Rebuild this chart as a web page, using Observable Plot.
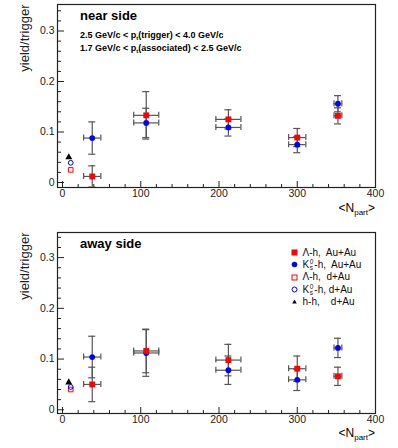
<!DOCTYPE html>
<html>
<head>
<meta charset="utf-8">
<script src="https://cdn.jsdelivr.net/npm/d3@7"></script>
<script src="https://cdn.jsdelivr.net/npm/@observablehq/plot@0.6"></script>
<style>
  html, body { margin: 0; padding: 0; background: #fff; }
  #wrap { position: relative; width: 398px; height: 448px; font-family: "Liberation Sans", Arial, sans-serif; color: #000; }
  #wrap > svg { display: block; }
  .ov { position: absolute; white-space: nowrap; line-height: 1; }
  .title { font-weight: bold; font-size: 13px; }
  .sub { font-weight: bold; font-size: 9px; line-height: 10px; }
  .sub sub { font-size: 6px; vertical-align: -2px; }
  .xl { font-size: 12px; }
  .xl sub { font-size: 8px; vertical-align: -3px; }
  .leg { font-size: 10px; color: #111; }
  .leg > div { height: 12.3px; display: flex; align-items: center; }
  .leg svg { display: inline-block; margin-right: 4px; }
  .stk { display: inline-flex; flex-direction: column; font-size: 6.5px; line-height: 6px; margin: 0 1px 0 0.5px; }
</style>
</head>
<body>
<div id="wrap"></div>
<script>
// ---- data ----
const npart = [38, 107, 212, 300, 352];
const npartErr = [11, 16, 16, 11, 5];

const nearLam = [0.012, 0.133, 0.125, 0.089, 0.132];
const nearLamErr = [0.021, 0.047, 0.019, 0.018, 0.016];
const nearK0 = [0.088, 0.118, 0.109, 0.075, 0.156];
const nearK0Err = [0.032, 0.029, 0.017, 0.016, 0.016];

const awayLam = [0.050, 0.116, 0.098, 0.081, 0.066];
const awayLamErr = [0.034, 0.043, 0.031, 0.025, 0.018];
const awayK0 = [0.104, 0.112, 0.078, 0.059, 0.122];
const awayK0Err = [0.041, 0.046, 0.028, 0.021, 0.019];

// d+Au references: Lambda-h, K0s-h, h-h
const dAuX = [10.5, 10.5, 8];
const nearDAu = [0.025, 0.039, 0.050];
const awayDAu = [0.040, 0.045, 0.054];

const xMajor = [0, 100, 200, 300, 400];
const xMinor = [20, 40, 60, 80, 120, 140, 160, 180, 220, 240, 260, 280, 320, 340, 360, 380];
const yMajor = [0, 0.1, 0.2, 0.3];
const yMinor = [0.02, 0.04, 0.06, 0.08, 0.12, 0.14, 0.16, 0.18, 0.22, 0.24, 0.26, 0.28, 0.32, 0.34];

const W = 398, H = 224, ML = 57, MR = 23;

function rows(y, e) {
  return npart.map((x, i) => ({x, ex: npartErr[i], y: y[i], e: e[i]}));
}

function errMarks(d) {
  const st = {stroke: "#555", strokeWidth: 1.2};
  return [
    Plot.ruleX(d, {x: "x", y1: r => r.y - r.e, y2: r => r.y + r.e, ...st}),
    Plot.ruleY(d, {y: "y", x1: r => r.x - r.ex, x2: r => r.x + r.ex, ...st}),
    Plot.ruleY(d, {y: r => r.y + r.e, x1: "x", x2: "x", insetLeft: -3.5, insetRight: -3.5, ...st}),
    Plot.ruleY(d, {y: r => r.y - r.e, x1: "x", x2: "x", insetLeft: -3.5, insetRight: -3.5, ...st}),
    Plot.ruleX(d, {x: r => r.x - r.ex, y1: "y", y2: "y", insetTop: -3, insetBottom: -3, ...st}),
    Plot.ruleX(d, {x: r => r.x + r.ex, y1: "y", y2: "y", insetTop: -3, insetBottom: -3, ...st})
  ];
}

function panel(lam, lamE, k0, k0E, dau, mt, mb, ydom) {
  const ph = H - mt - mb, pw = W - ML - MR;
  const L = rows(lam, lamE), K = rows(k0, k0E);
  return Plot.plot({
    width: W, height: H,
    marginLeft: ML, marginRight: MR, marginTop: mt, marginBottom: mb,
    style: {fontFamily: "Liberation Sans, Arial, sans-serif", fontSize: "10.5px", background: "white", overflow: "visible"},
    x: {domain: [-6.4, 400]},
    y: {domain: ydom},
    marks: [
      Plot.axisX({ticks: xMajor, tickSize: 0, tickPadding: 2, tickFormat: d => String(d), label: null, fontSize: 10.5, fill: "#222"}),
      Plot.axisY({ticks: yMajor, tickSize: 0, tickPadding: 3, tickFormat: d => String(d), label: null, fontSize: 10.5, fill: "#222"}),
      Plot.ruleX(xMajor, {x: d => d, insetTop: ph - 6, stroke: "#222"}),
      Plot.ruleX(xMinor, {x: d => d, insetTop: ph - 3, stroke: "#222"}),
      Plot.ruleY(yMajor, {y: d => d, insetRight: pw - 7, stroke: "#222"}),
      Plot.ruleY(yMinor, {y: d => d, insetRight: pw - 4, stroke: "#222"}),
      Plot.text(["yield/trigger"], {frameAnchor: "top-left", rotate: -90, textAnchor: "end", lineAnchor: "middle", dx: -33, fontSize: 13, fill: "#222"}),
      ...errMarks(K),
      ...errMarks(L),
      Plot.dot(K, {x: "x", y: "y", symbol: "circle", fill: "#0000ff", r: 2.9}),
      Plot.dot(L, {x: "x", y: "y", symbol: "square", fill: "#ff0000", r: 3.3}),
      Plot.dot([0], {x: () => dAuX[0], y: () => dau[0], symbol: "square", stroke: "#ff0000", fill: "none", strokeWidth: 1, r: 2.6}),
      Plot.dot([1], {x: () => dAuX[1], y: () => dau[1], symbol: "circle", stroke: "#0000ff", fill: "none", strokeWidth: 1, r: 2.4}),
      Plot.dot([2], {x: () => dAuX[2], y: () => dau[2], symbol: "triangle", fill: "#000", r: 2.6}),
      Plot.frame({stroke: "#222", strokeWidth: 1.2})
    ]
  });
}

const wrap = document.getElementById("wrap");
wrap.appendChild(panel(nearLam, nearLamErr, nearK0, nearK0Err, nearDAu, 4, 37, [-0.0099, 0.3525]));
wrap.appendChild(panel(awayLam, awayLamErr, awayK0, awayK0Err, awayDAu, 8, 35, [-0.0073, 0.3495]));

function ov(cls, html, left, top) {
  const d = document.createElement("div");
  d.className = "ov " + cls;
  d.innerHTML = html;
  d.style.left = left + "px";
  d.style.top = top + "px";
  wrap.appendChild(d);
  return d;
}

ov("title", "near side", 80, 9);
ov("sub", "2.5 GeV/c &lt; p<sub>t</sub>(trigger) &lt; 4.0 GeV/c<br>1.7 GeV/c &lt; p<sub>t</sub>(associated) &lt; 2.5 GeV/c", 80, 30);
ov("title", "away side", 80, 237);
const xl1 = ov("xl", "&lt;N<sub>part</sub>&gt;", 0, 202);
xl1.style.left = "auto"; xl1.style.right = (398 - 375) + "px";
const xl2 = ov("xl", "&lt;N<sub>part</sub>&gt;", 0, 427);
xl2.style.left = "auto"; xl2.style.right = (398 - 375) + "px";

// legend
const K0s = 'K<span class="stk"><span>0</span><span>s</span></span>';
const legItems = [
  {sym: '<rect x="1.5" y="1.5" width="6" height="6" fill="#ff0000"/>', txt: "&Lambda;-h,&nbsp; Au+Au"},
  {sym: '<circle cx="4.5" cy="4.5" r="2.8" fill="#0000ff"/>', txt: K0s + "-h,&nbsp; Au+Au"},
  {sym: '<rect x="2" y="2" width="5" height="5" fill="none" stroke="#ff0000"/>', txt: "&Lambda;-h,&nbsp; d+Au"},
  {sym: '<circle cx="4.5" cy="4.5" r="2.5" fill="none" stroke="#0000ff"/>', txt: K0s + "-h, d+Au"},
  {sym: '<path d="M4.5,2.5L6.8,6.5L2.2,6.5Z" fill="#000"/>', txt: "h-h,&nbsp;&nbsp;&nbsp; d+Au"}
];
ov("leg", legItems.map(it => `<div><svg width="9" height="9">${it.sym}</svg><span style="display:inline-flex;align-items:center">${it.txt}</span></div>`).join(""), 289.5, 246.5);
</script>
</body>
</html>
